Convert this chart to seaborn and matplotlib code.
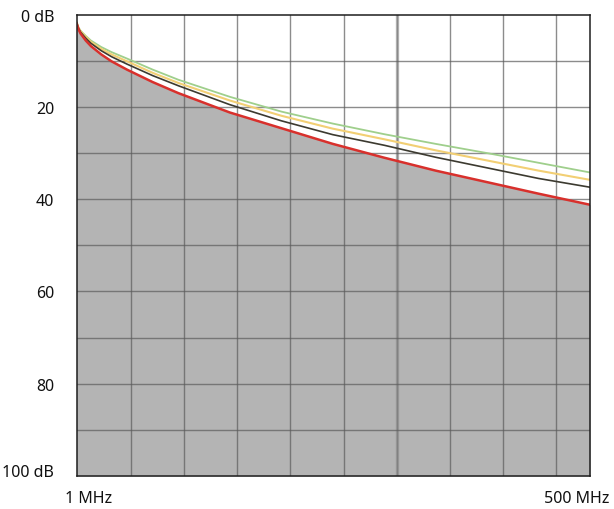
import numpy as np
import pandas as pd
import matplotlib
matplotlib.use('Agg')
import matplotlib.pyplot as plt
import matplotlib.transforms as mtransforms
import seaborn as sns

# ── Data: attenuation (dB) vs frequency (MHz) ──
freq_mhz = [1, 3, 5, 10, 15, 25, 35, 50, 75, 100, 150, 200, 250, 300, 350, 400, 450, 500]

atten_red    = [1.8, 3.2, 4.1, 5.6, 6.8, 8.6, 10.1, 11.9, 14.6, 17.0, 21.2, 24.6, 28.0, 31.0, 33.8, 36.3, 38.8, 41.2]
atten_dark   = [1.7, 3.0, 3.8, 5.1, 6.2, 7.8,  9.1, 10.7, 13.2, 15.4, 19.5, 23.0, 26.0, 28.3, 30.9, 33.2, 35.5, 37.4]
atten_yellow = [1.6, 2.9, 3.6, 4.8, 5.9, 7.4,  8.6, 10.1, 12.6, 14.8, 18.6, 21.9, 24.7, 27.0, 29.4, 31.6, 33.8, 35.8]
atten_green  = [1.5, 2.8, 3.5, 4.6, 5.6, 7.0,  8.1,  9.5, 11.9, 14.1, 17.8, 21.0, 23.6, 25.9, 28.0, 30.0, 32.1, 34.2]

y_ticks       = [0, 20, 40, 60, 80, 100]
y_tick_labels = ['0 dB', '20', '40', '60', '80', '100 dB']
x_ticks       = [1, 500]
x_tick_labels = ['1 MHz', '500 MHz']

df = pd.DataFrame({'freq': freq_mhz, 'red': atten_red, 'dark': atten_dark,
                   'yellow': atten_yellow, 'green': atten_green})

sns.set_style('white')
plt.rcParams['font.family'] = ['Noto Sans', 'DejaVu Sans']

fig = plt.figure(figsize=(6.14, 5.10), dpi=100)
ax = fig.add_axes([0.1246, 0.0647, 0.961 - 0.1246, 0.9692 - 0.0647])

# grey area below the lowest curve
ax.fill_between(df['freq'], df['red'], 100, color='#b4b4b4', linewidth=0, zorder=1)

# grid (drawn as plain lines, spaced like the original screen grid)
for gx in np.arange(2.5, 500, 51.6)[1:]:
    ax.axvline(gx, color='#5c5c5c', lw=1.0, alpha=0.7, zorder=2)
ax.axvline(312.1, color='#8a8a8a', lw=2.4, alpha=0.6, zorder=2)
for gy in range(10, 100, 10):
    ax.axhline(gy, color='#5c5c5c', lw=1.0, alpha=0.7, zorder=2)

sns.lineplot(data=df, x='freq', y='green', color='#9fcf8c', lw=1.3, ax=ax, zorder=3)
sns.lineplot(data=df, x='freq', y='yellow', color='#f2cf74', lw=1.5, ax=ax, zorder=3)
sns.lineplot(data=df, x='freq', y='dark', color='#3c3a30', lw=1.2, ax=ax, zorder=4)
sns.lineplot(data=df, x='freq', y='red', color='#d8302c', lw=1.8, ax=ax, zorder=5)

ax.set_xlim(1, 500)
ax.set_ylim(100, 0)
ax.set_xlabel('')
ax.set_ylabel('')

ax.set_yticks(y_ticks, y_tick_labels)
ax.set_xticks(x_ticks, x_tick_labels)
ax.tick_params(axis='both', length=0, labelsize=11.5, colors='#111111')
ax.tick_params(axis='y', pad=16)
ax.tick_params(axis='x', pad=10)

# nudge the edge labels like in the original
dpi_scale = fig.dpi_scale_trans
xl = ax.get_xticklabels()
xl[0].set_transform(xl[0].get_transform() + mtransforms.ScaledTranslation(12 / 100, 0, dpi_scale))
xl[1].set_transform(xl[1].get_transform() + mtransforms.ScaledTranslation(-13 / 100, 0, dpi_scale))
yl = ax.get_yticklabels()
yl[-1].set_transform(yl[-1].get_transform() + mtransforms.ScaledTranslation(0, 6 / 100, dpi_scale))

for s in ax.spines.values():
    s.set_visible(True)
    s.set_color('#1e1e1e')
    s.set_linewidth(1.1)
    s.set_zorder(6)

fig.savefig('out.png', dpi=100)
